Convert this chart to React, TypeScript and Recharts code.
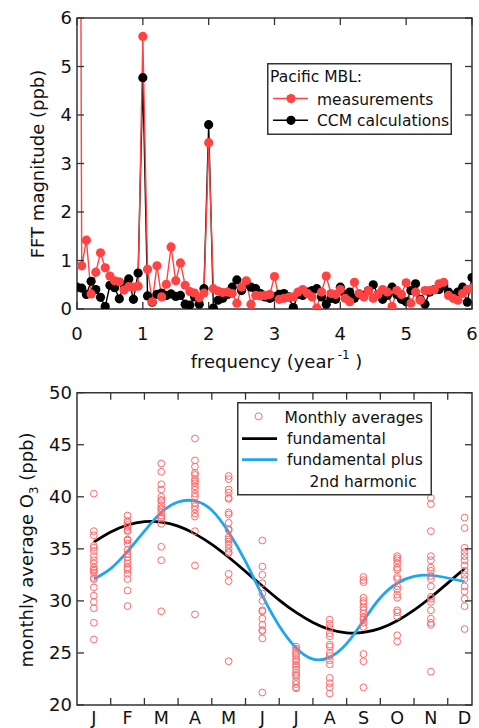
import React from 'react';
import { ComposedChart, Line, Scatter, XAxis, YAxis, Legend, ReferenceArea } from 'recharts';

const FONT = '"DejaVu Sans", "Lucida Grande", sans-serif';
const RED = '#ff4343';
const BLACK = '#000000';
const BLUE = '#1fa6ee';
const CIRCLE_RED = '#ff6a6a';
const FRAME = '#333333';
const TEXT = '#111111';

// ---------- top panel: FFT magnitude ----------
const RECORD_YEARS = 14; // frequency resolution 1/14 year^-1
const freqTicks = [0, 1, 2, 3, 4, 5, 6];
const fftTicks = [0, 1, 2, 3, 4, 5, 6];
const fftMeasured = [
  33.0, 0.89, 1.42, 0.31, 0.76, 1.16, 0.85, 0.68, 0.58, 0.56, 0.39, 0.46, 0.45, 0.47,
  5.62, 0.82, 0.15, 0.89, 0.25, 0.51, 1.28, 0.58, 0.95, 0.49, 0.36, 0.33, 0.23, 0.33,
  3.43, 0.42, 0.37, 0.34, 0.35, 0.32, 0.12, 0.45, 0.58, 0.10, 0.28, 0.27, 0.28, 0.30,
  0.67, 0.20, 0.22, 0.24, 0.25, 0.35, 0.40, 0.32, 0.25, 0.02, 0.35, 0.68, 0.32, 0.30,
  0.40, 0.22, 0.15, 0.55, 0.32, 0.25, 0.38, 0.22, 0.30, 0.40, 0.35, 0.05, 0.38, 0.30,
  0.54, 0.12, 0.35, 0.18, 0.38, 0.38, 0.40, 0.52, 0.55, 0.28, 0.22, 0.18, 0.32, 0.40,
  0.43,
];
const fftCcm = [
  0.45, 0.43, 0.30, 0.57, 0.40, 0.24, 0.05, 0.49, 0.44, 0.21, 0.50, 0.62, 0.20, 0.74,
  4.77, 0.27, 0.14, 0.30, 0.33, 0.28, 0.31, 0.26, 0.28, 0.10, 0.08, 0.25, 0.10, 0.42,
  3.80, 0.02, 0.18, 0.22, 0.30, 0.45, 0.60, 0.38, 0.52, 0.45, 0.42, 0.32, 0.25, 0.22,
  0.25, 0.30, 0.32, 0.25, 0.03, 0.30, 0.28, 0.35, 0.38, 0.42, 0.25, 0.10, 0.22, 0.20,
  0.45, 0.30, 0.35, 0.22, 0.30, 0.28, 0.38, 0.50, 0.30, 0.20, 0.28, 0.45, 0.30, 0.20,
  0.15, 0.38, 0.52, 0.20, 0.10, 0.35, 0.40, 0.40, 0.48, 0.35, 0.28, 0.35, 0.45, 0.14,
  0.65,
];
const fftData = fftMeasured.map((m, i) => ({ f: i / RECORD_YEARS, measured: m, ccm: fftCcm[i] }));

// ---------- bottom panel: monthly average O3 ----------
const months = ['J', 'F', 'M', 'A', 'M', 'J', 'J', 'A', 'S', 'O', 'N', 'D'];
const MONTH_AXIS_END = 11.72;
const o3Ticks = [20, 25, 30, 35, 40, 45, 50];
const monthlyAverages: number[][] = [
  [40.3, 36.7, 36.3, 35.3, 35.1, 34.8, 34.3, 33.9, 33.6, 33.2, 33.0, 32.9, 32.7, 32.2, 32.1, 31.3, 30.5, 29.9, 29.3, 27.9, 26.3],
  [38.2, 37.7, 37.5, 37.3, 37.1, 36.8, 36.7, 35.9, 35.8, 35.5, 34.9, 34.5, 34.2, 33.9, 33.6, 33.2, 33.0, 32.6, 32.1, 31.0, 29.5],
  [43.2, 42.4, 41.2, 40.7, 40.0, 39.7, 39.6, 39.2, 38.9, 38.8, 38.5, 38.2, 38.0, 37.9, 37.4, 35.2, 33.9, 29.0],
  [45.6, 43.5, 42.9, 42.3, 42.1, 41.7, 41.5, 41.3, 41.0, 40.7, 40.3, 40.0, 39.4, 39.1, 38.8, 38.4, 38.1, 36.7, 33.4, 28.7],
  [42.0, 41.7, 40.7, 40.4, 39.9, 39.8, 38.5, 38.3, 37.5, 36.9, 36.8, 36.1, 35.9, 35.7, 35.4, 35.0, 34.7, 34.6, 32.6, 31.9, 24.2],
  [35.8, 33.3, 32.5, 31.7, 30.7, 30.0, 29.1, 29.0, 28.3, 27.7, 27.2, 27.1, 26.4, 21.2],
  [25.6, 25.4, 25.1, 24.9, 24.7, 24.4, 24.2, 23.9, 23.7, 23.4, 23.1, 22.9, 22.7, 22.3, 22.0, 21.7, 21.6],
  [28.2, 27.8, 27.4, 26.9, 26.6, 25.8, 25.6, 25.0, 24.7, 24.3, 23.9, 22.6, 22.1, 21.7, 21.1],
  [32.3, 32.0, 31.8, 30.3, 30.0, 29.8, 29.4, 29.1, 28.8, 28.4, 28.2, 27.9, 27.5, 24.9, 24.2, 21.7],
  [34.3, 34.1, 33.9, 33.6, 33.2, 33.0, 32.3, 32.1, 31.4, 31.1, 30.6, 30.3, 29.1, 28.9, 28.5, 26.7, 26.1],
  [39.9, 39.3, 36.7, 34.3, 33.9, 33.2, 32.9, 32.4, 32.1, 31.4, 30.4, 30.2, 29.9, 29.1, 28.3, 27.9, 27.7, 23.2],
  [38.0, 37.0, 35.1, 34.7, 34.3, 33.9, 33.4, 32.9, 32.5, 32.1, 31.4, 30.9, 30.2, 29.5, 27.3],
];
const fitTimes = [0.5, 1, 1.5, 2, 2.5, 3, 3.5, 4, 4.5, 5, 5.5, 6, 6.5, 7, 7.5, 8, 8.5, 9, 9.5, 10, 10.5, 11, 11.5];
const fundamental = [35.65, 36.62, 37.29, 37.61, 37.57, 37.18, 36.44, 35.43, 34.19, 32.83, 31.43, 30.08, 28.89, 27.93, 27.25, 26.93, 26.97, 27.36, 28.10, 29.11, 30.35, 31.71, 33.11];
const fundamentalPlus2nd = [32.1, 33.1, 34.75, 36.7, 38.5, 39.5, 39.6, 38.7, 36.6, 33.8, 30.5, 27.6, 25.5, 24.4, 24.6, 25.9, 28.1, 30.3, 31.7, 32.35, 32.45, 32.2, 31.85];

const scatterData = monthlyAverages.flatMap((vals, i) => vals.map((v) => ({ t: i + 0.5, v })));
const fundamentalData = fitTimes.map((t, i) => ({ t, v: fundamental[i] }));
const harmonicData = fitTimes.map((t, i) => ({ t, v: fundamentalPlus2nd[i] }));
const monthAxisTicks = months.flatMap((_, i) => (i === 0 ? [i + 0.5] : [i, i + 0.5]));

// ---------- layout ----------
const W = 479;
const PLOT_LEFT = 77;
const PLOT_RIGHT_GAP = 7;
const PLOT_W = W - PLOT_LEFT - PLOT_RIGHT_GAP;
const TOP_H = 360;
const TOP_MARGIN_TOP = 18;
const TOP_XAXIS_H = 51;
const TOP_PLOT_H = TOP_H - TOP_MARGIN_TOP - TOP_XAXIS_H;
const BOT_TOP = 372;
const BOT_H = 356;
const BOT_MARGIN_TOP = 20.7;
const BOT_XAXIS_H = 23;
const BOT_PLOT_H = BOT_H - BOT_MARGIN_TOP - BOT_XAXIS_H;
const TICK_LEN = 7;
const TICK_FONT = 18;

const makeYTick = () => (props: any) => {
  const { x, y, payload } = props;
  return (
    <g>
      <line x1={x} x2={x + TICK_LEN} y1={y} y2={y} stroke={FRAME} strokeWidth={1.3} />
      <line x1={x + PLOT_W} x2={x + PLOT_W - TICK_LEN} y1={y} y2={y} stroke={FRAME} strokeWidth={1.3} />
      <text x={x - 5} y={y} dy="0.36em" textAnchor="end" fontSize={TICK_FONT} fill={TEXT} fontFamily={FONT}>
        {payload.value}
      </text>
    </g>
  );
};

const FreqTick = (props: any) => {
  const { x, y, payload } = props;
  return (
    <g>
      <line x1={x} x2={x} y1={y} y2={y - TICK_LEN} stroke={FRAME} strokeWidth={1.3} />
      <line x1={x} x2={x} y1={y - TOP_PLOT_H} y2={y - TOP_PLOT_H + TICK_LEN} stroke={FRAME} strokeWidth={1.3} />
      <text x={x} y={y + 31} textAnchor="middle" fontSize={TICK_FONT} fill={TEXT} fontFamily={FONT}>
        {payload.value}
      </text>
    </g>
  );
};

const MonthTick = (props: any) => {
  const { x, y, payload } = props;
  const t = payload.value as number;
  if (Number.isInteger(t)) {
    return (
      <g>
        <line x1={x} x2={x} y1={y} y2={y - TICK_LEN} stroke={FRAME} strokeWidth={1.3} />
        <line x1={x} x2={x} y1={y - BOT_PLOT_H} y2={y - BOT_PLOT_H + TICK_LEN} stroke={FRAME} strokeWidth={1.3} />
      </g>
    );
  }
  return (
    <text x={x} y={y + 18.5} textAnchor="middle" fontSize={17.5} fill={TEXT} fontFamily={FONT}>
      {months[Math.floor(t)]}
    </text>
  );
};

const LEG_FONT = 15.5;

const TopLegend = () => (
  <svg width={185} height={72} style={{ display: 'block' }}>
    <rect x={0.75} y={0.75} width={183.5} height={70.5} fill="#fff" stroke={FRAME} strokeWidth={1.5} />
    <text x={3} y={19} fontSize={LEG_FONT} fontFamily={FONT} fill={TEXT}>Pacific MBL:</text>
    <line x1={6} x2={41} y1={35.6} y2={35.6} stroke={RED} strokeWidth={1.5} />
    <circle cx={24} cy={35.6} r={4.6} fill={RED} />
    <text x={50} y={41.6} fontSize={LEG_FONT} fontFamily={FONT} fill={TEXT}>measurements</text>
    <line x1={6} x2={41} y1={57.3} y2={57.3} stroke={BLACK} strokeWidth={1.5} />
    <circle cx={24} cy={57.3} r={4.6} fill={BLACK} />
    <text x={50} y={63.3} fontSize={LEG_FONT} fontFamily={FONT} fill={TEXT}>CCM calculations</text>
  </svg>
);

const BottomLegend = () => (
  <svg width={195} height={94} style={{ display: 'block' }}>
    <rect x={0.75} y={0.75} width={193.5} height={92} fill="#fff" stroke={FRAME} strokeWidth={1.5} />
    <circle cx={21.6} cy={14.3} r={3.5} fill="none" stroke={CIRCLE_RED} strokeWidth={1} />
    <text x={47.6} y={20.6} fontSize={LEG_FONT} fontFamily={FONT} fill={TEXT}>Monthly averages</text>
    <line x1={5} x2={40} y1={36.6} y2={36.6} stroke={BLACK} strokeWidth={2.8} />
    <text x={50} y={41.6} fontSize={LEG_FONT} fontFamily={FONT} fill={TEXT}>fundamental</text>
    <line x1={5} x2={40} y1={57.6} y2={57.6} stroke={BLUE} strokeWidth={2.8} />
    <text x={50} y={63.3} fontSize={LEG_FONT} fontFamily={FONT} fill={TEXT}>fundamental plus</text>
    <text x={72.6} y={85} fontSize={LEG_FONT} fontFamily={FONT} fill={TEXT}>2nd harmonic</text>
  </svg>
);

const OpenCircle = (props: any) => {
  const { cx, cy } = props;
  if (cx == null || cy == null) return <g />;
  return <circle cx={cx} cy={cy} r={3.4} fill="none" stroke={CIRCLE_RED} strokeWidth={1} />;
};

export default function App() {
  return (
    <div style={{ position: 'absolute', left: 0, top: 0, width: W, height: 728, background: '#fff', fontFamily: FONT }}>
      <div style={{ position: 'absolute', left: 0, top: 0 }}>
        <ComposedChart width={W} height={TOP_H} data={fftData} margin={{ top: TOP_MARGIN_TOP, right: PLOT_RIGHT_GAP, bottom: 0, left: 0 }}>
          <XAxis dataKey="f" type="number" domain={[0, 6]} ticks={freqTicks} interval={0} height={TOP_XAXIS_H}
            axisLine={false} tickLine={false} tickSize={0} tickMargin={0} tick={FreqTick} allowDataOverflow />
          <YAxis type="number" domain={[0, 6]} ticks={fftTicks} interval={0} width={PLOT_LEFT}
            axisLine={false} tickLine={false} tickSize={0} tickMargin={0} tick={makeYTick()} allowDataOverflow />
          <ReferenceArea x1={0} x2={6} y1={0} y2={6} fill="none" stroke={FRAME} strokeWidth={1.5} ifOverflow="visible" />
          <Line dataKey="ccm" name="CCM calculations" type="linear" stroke={BLACK} strokeWidth={1.4}
            dot={{ r: 4.6, fill: BLACK, stroke: 'none' }} activeDot={false} isAnimationActive={false} />
          <Line dataKey="measured" name="measurements" type="linear" stroke={RED} strokeWidth={1.4}
            dot={{ r: 4.6, fill: RED, stroke: 'none' }} activeDot={false} isAnimationActive={false} />
          <Legend layout="horizontal" verticalAlign="middle" align="center" content={TopLegend}
            wrapperStyle={{ left: 266.7, top: 62.7, width: 185, height: 72 }} />
        </ComposedChart>
      </div>
      <div style={{ position: 'absolute', left: 0, top: BOT_TOP }}>
        <ComposedChart width={W} height={BOT_H} margin={{ top: BOT_MARGIN_TOP, right: PLOT_RIGHT_GAP, bottom: 0, left: 0 }}>
          <XAxis dataKey="t" type="number" domain={[0, MONTH_AXIS_END]} ticks={monthAxisTicks} interval={0} height={BOT_XAXIS_H}
            axisLine={false} tickLine={false} tickSize={0} tickMargin={0} tick={MonthTick} allowDataOverflow />
          <YAxis type="number" domain={[20, 50]} ticks={o3Ticks} interval={0} width={PLOT_LEFT}
            axisLine={false} tickLine={false} tickSize={0} tickMargin={0} tick={makeYTick()} allowDataOverflow />
          <ReferenceArea x1={0} x2={MONTH_AXIS_END} y1={20} y2={50} fill="none" stroke={FRAME} strokeWidth={1.5} ifOverflow="visible" />
          <Scatter data={scatterData} dataKey="v" name="Monthly averages" shape={OpenCircle} isAnimationActive={false} />
          <Line data={fundamentalData} dataKey="v" name="fundamental" type="natural" stroke={BLACK} strokeWidth={2.8}
            dot={false} activeDot={false} isAnimationActive={false} />
          <Line data={harmonicData} dataKey="v" name="fundamental plus 2nd harmonic" type="natural" stroke={BLUE} strokeWidth={2.8}
            dot={false} activeDot={false} isAnimationActive={false} />
          <Legend layout="horizontal" verticalAlign="middle" align="center" content={BottomLegend}
            wrapperStyle={{ left: 236.7, top: 401.7 - BOT_TOP, width: 195, height: 94 }} />
        </ComposedChart>
      </div>
      <svg width={W} height={728} style={{ position: 'absolute', left: 0, top: 0, pointerEvents: 'none' }}>
        <text transform="translate(43.5, 164) rotate(-90)" textAnchor="middle" fontSize={18} fontFamily={FONT} fill={TEXT}>
          FFT magnitude (ppb)
        </text>
        <text x={276.5} y={367.5} textAnchor="middle" fontSize={18} fontFamily={FONT} fill={TEXT}>
          frequency (year
          <tspan dy={-9} fontSize={12}> -1</tspan>
          <tspan dy={9}> )</tspan>
        </text>
        <text transform="translate(33, 550) rotate(-90)" textAnchor="middle" fontSize={18} fontFamily={FONT} fill={TEXT}>
          monthly average O<tspan dy={5} fontSize={12}>3</tspan><tspan dy={-5}> (ppb)</tspan>
        </text>
      </svg>
    </div>
  );
}
